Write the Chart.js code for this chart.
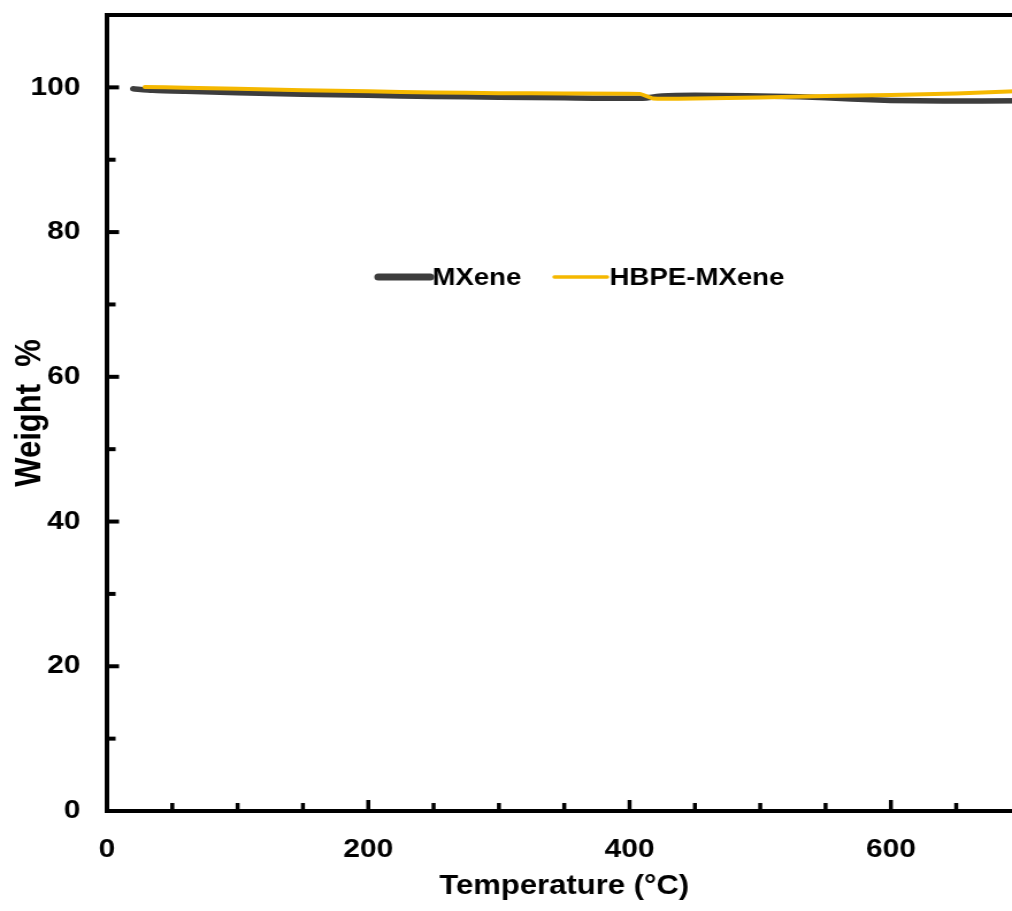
<!DOCTYPE html>
<html><head><meta charset="utf-8">
<script src="https://cdn.jsdelivr.net/npm/chart.js@4/dist/chart.umd.min.js"></script>
<style>
html,body{margin:0;padding:0;background:#fff;overflow:hidden;width:1012px;height:911px;}
#wrap{position:absolute;left:0;top:0;width:900px;height:911px;transform:scaleX(1.15);transform-origin:0 0;}
canvas{display:block;}
</style></head><body>
<div id="wrap"><canvas id="c" width="900" height="911"></canvas></div>
<script>
const seriesNames = ['MXene', 'HBPE-MXene'];
const mxeneTemp   = [20, 35, 60, 100, 150, 200, 250, 300, 350, 410, 425, 450, 490, 530, 570, 600, 640, 700];
const mxeneWeight = [99.8, 99.6, 99.45, 99.25, 99.05, 98.9, 98.75, 98.65, 98.55, 98.5, 98.8, 98.9, 98.85, 98.7, 98.4, 98.2, 98.1, 98.15];
const hbpeTemp    = [29, 60, 100, 150, 200, 250, 300, 350, 408, 418, 450, 500, 550, 600, 650, 700];
const hbpeWeight  = [100.05, 99.95, 99.8, 99.6, 99.45, 99.3, 99.2, 99.15, 99.1, 98.45, 98.45, 98.6, 98.8, 98.95, 99.15, 99.5];
const xMajorTicks = [0, 200, 400, 600];
const xMinorTicks = [50, 100, 150, 250, 300, 350, 450, 500, 550, 650];
const yMajorTicks = [0, 20, 40, 60, 80, 100];
const yMinorTicks = [10, 30, 50, 70, 90];
const xTitle = 'Temperature (\u00B0C)';
const yTitle = 'Weight  %';

const FONT = '"Liberation Sans", Arial, sans-serif';

const frameTicks = {
  id: 'frameTicks',
  afterDatasetsDraw(chart) {
    const {ctx, chartArea: a, scales: {x, y}} = chart;
    ctx.save();
    ctx.strokeStyle = '#000';
    ctx.lineWidth = 3.5;
    ctx.lineCap = 'butt';
    const vt = (v, len) => { const p = x.getPixelForValue(v); ctx.beginPath(); ctx.moveTo(p, a.bottom); ctx.lineTo(p, a.bottom - len); ctx.stroke(); };
    const ht = (v, len) => { const p = y.getPixelForValue(v); ctx.beginPath(); ctx.moveTo(a.left, p); ctx.lineTo(a.left + len, p); ctx.stroke(); };
    xMajorTicks.forEach(v => vt(v, 11));
    xMinorTicks.forEach(v => vt(v, 8));
    ctx.lineWidth = 4;
    yMajorTicks.forEach(v => ht(v, 10.5));
    yMinorTicks.forEach(v => ht(v, 7.5));
    ctx.lineWidth = 4;
    ctx.lineCap = 'square';
    ctx.beginPath();
    ctx.moveTo(a.left, a.top); ctx.lineTo(a.right, a.top); ctx.lineTo(a.right, a.bottom);
    ctx.lineTo(a.left, a.bottom); ctx.closePath();
    ctx.stroke();
    ctx.restore();
  }
};

const inlineLegend = {
  id: 'inlineLegend',
  afterDraw(chart) {
    const ctx = chart.ctx;
    const items = [
      {ds: 0, x1: 329, x2: 374, w: 7},
      {ds: 1, x1: 482, x2: 528, w: 3.5}
    ];
    const yy = 277;
    ctx.save();
    ctx.font = 'bold 24px ' + FONT;
    ctx.textBaseline = 'middle';
    ctx.textAlign = 'left';
    items.forEach(it => {
      const d = chart.data.datasets.find(s => s.label === seriesNames[it.ds]);
      ctx.strokeStyle = d.borderColor;
      ctx.lineWidth = it.w;
      ctx.lineCap = 'round';
      ctx.beginPath(); ctx.moveTo(it.x1, yy); ctx.lineTo(it.x2, yy); ctx.stroke();
      ctx.fillStyle = '#000';
      ctx.fillText(d.label, it.x2 + 2, yy + 1);
    });
    ctx.restore();
  }
};

const toPts = (xs, ys) => xs.map((v, i) => ({x: v, y: ys[i]}));

new Chart(document.getElementById('c'), {
  type: 'line',
  data: {
    datasets: [
      {label: seriesNames[0], data: toPts(mxeneTemp, mxeneWeight), borderColor: '#3d3d3d', borderWidth: 5.5,
       pointRadius: 0, tension: 0.2, borderCapStyle: 'round', borderJoinStyle: 'round', order: 1},
      {label: seriesNames[1], data: toPts(hbpeTemp, hbpeWeight), borderColor: '#f5b800', borderWidth: 4,
       pointRadius: 0, tension: 0.1, borderCapStyle: 'round', borderJoinStyle: 'round', order: 0}
    ]
  },
  options: {
    responsive: false,
    animation: false,
    devicePixelRatio: 1,
    layout: {padding: {left: 0, top: 15, right: 11.7, bottom: 0}},
    plugins: {legend: {display: false}, tooltip: {enabled: false}},
    scales: {
      x: {
        type: 'linear', min: 0, max: 700,
        grid: {display: false, drawTicks: false},
        border: {display: false},
        afterBuildTicks: s => { s.ticks = xMajorTicks.map(v => ({value: v})); },
        afterFit: s => { s.height = 100; s.paddingLeft = 0; s.paddingRight = 0; },
        ticks: {color: '#000', font: {family: FONT, size: 26, weight: 'bold'}, padding: 23, maxRotation: 0},
        title: {display: true, text: xTitle, color: '#000', font: {family: FONT, size: 27, weight: 'bold'}, padding: {top: 0, bottom: 8}}
      },
      y: {
        type: 'linear', min: 0, max: 110,
        grid: {display: false, drawTicks: false},
        border: {display: false},
        afterBuildTicks: s => { s.ticks = yMajorTicks.map(v => ({value: v})); },
        afterFit: s => { s.width = 93; s.paddingTop = 0; s.paddingBottom = 0; },
        ticks: {color: '#000', font: {family: FONT, size: 26, weight: 'bold'}, padding: 23},
        title: {display: true, text: yTitle, color: '#000', font: {family: FONT, size: 31, weight: 'bold'}, padding: {top: 8, bottom: 0}}
      }
    }
  },
  plugins: [frameTicks, inlineLegend]
});
</script>
</body></html>
